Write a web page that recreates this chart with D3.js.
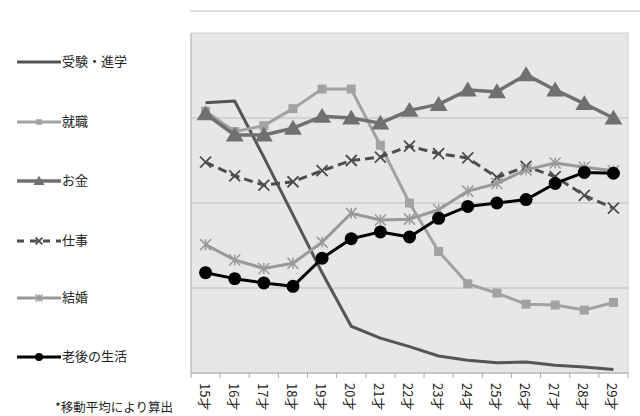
<!DOCTYPE html>
<html>
<head>
<meta charset="utf-8">
<script src="https://cdn.jsdelivr.net/npm/d3@7"></script>
<style>
  html, body { margin: 0; padding: 0; background: #fff; }
  svg { display: block; font-family: "Noto Sans CJK JP", "Noto Sans", sans-serif; }
</style>
</head>
<body>
<svg id="chart" width="640" height="416"></svg>
<script>
// Ages (x categories)
const ages = ["15才","16才","17才","18才","19才","20才","21才","22才","23才","24才","25才","26才","27才","28才","29才"];

// Series values (moving averages)
const juken   = [3.18, 3.20, 2.54, 1.86, 1.18, 0.55, 0.41, 0.31, 0.20, 0.15, 0.12, 0.13, 0.09, 0.07, 0.04];
const shushoku= [3.08, 2.84, 2.91, 3.11, 3.34, 3.34, 2.68, 2.00, 1.43, 1.05, 0.94, 0.81, 0.80, 0.74, 0.83];
const okane   = [3.05, 2.80, 2.80, 2.88, 3.02, 3.00, 2.94, 3.09, 3.16, 3.33, 3.31, 3.51, 3.33, 3.17, 3.00];
const shigoto = [2.48, 2.32, 2.21, 2.25, 2.38, 2.50, 2.54, 2.67, 2.58, 2.53, 2.30, 2.43, 2.31, 2.09, 1.94];
const kekkon  = [1.51, 1.33, 1.23, 1.29, 1.54, 1.88, 1.80, 1.81, 1.92, 2.14, 2.23, 2.39, 2.47, 2.42, 2.38];
const rougo   = [1.18, 1.11, 1.06, 1.02, 1.35, 1.58, 1.66, 1.60, 1.82, 1.96, 2.00, 2.04, 2.23, 2.36, 2.35];

const gridValues = [1, 2, 3];
const note = "*移動平均により算出";

const series = [
  { name: "受験・進学", values: juken,    color: "#555555", width: 3,   dash: null,  marker: "none" },
  { name: "就職",       values: shushoku, color: "#a2a2a2", width: 3,   dash: null,  marker: "square" },
  { name: "お金",       values: okane,    color: "#707070", width: 3.5, dash: null,  marker: "triangle" },
  { name: "仕事",       values: shigoto,  color: "#4d4d4d", width: 3,   dash: "9,5", marker: "x" },
  { name: "結婚",       values: kekkon,   color: "#999999", width: 3,   dash: null,  marker: "star" },
  { name: "老後の生活", values: rougo,    color: "#000000", width: 3,   dash: null,  marker: "circle" }
];

const svg = d3.select("#chart");
const plot = { left: 191, right: 628, top: 33, bottom: 373 };

const x = d3.scaleBand().domain(ages).range([plot.left, plot.right]).padding(0);
const cx = d => x(d) + x.bandwidth() / 2;
const y = d3.scaleLinear().domain([0, 4]).range([plot.bottom, plot.top]);

// top rule of the chart area
svg.append("line")
  .attr("x1", 190).attr("x2", 640).attr("y1", 11).attr("y2", 11)
  .attr("stroke", "#d2d2d2").attr("stroke-width", 1.5);

// plot background
svg.append("rect")
  .attr("x", plot.left).attr("y", plot.top)
  .attr("width", plot.right - plot.left).attr("height", plot.bottom - plot.top)
  .attr("fill", "#e7e7e7").attr("stroke", "#cfcfcf").attr("stroke-width", 1);

// horizontal gridlines
svg.append("g").selectAll("line").data(gridValues).join("line")
  .attr("x1", plot.left).attr("x2", plot.right)
  .attr("y1", d => y(d)).attr("y2", d => y(d))
  .attr("stroke", "#bdbdbd").attr("stroke-width", 1.2);

// left axis line
svg.append("line")
  .attr("x1", plot.left).attr("x2", plot.left).attr("y1", plot.top).attr("y2", plot.bottom)
  .attr("stroke", "#bbbbbb").attr("stroke-width", 1);

// bottom axis: line + tick marks between categories
const xAxis = svg.append("g").attr("transform", `translate(0,${plot.bottom})`);
xAxis.append("line")
  .attr("x1", plot.left).attr("x2", plot.right)
  .attr("stroke", "#aaaaaa").attr("stroke-width", 1.2);
const boundaries = ages.map(a => x(a)).concat([x(ages[ages.length - 1]) + x.bandwidth()]);
xAxis.selectAll("line.tick").data(boundaries).join("line")
  .attr("class", "tick")
  .attr("x1", d => d).attr("x2", d => d).attr("y1", 0).attr("y2", 5)
  .attr("stroke", "#aaaaaa").attr("stroke-width", 1);

// rotated age labels
xAxis.selectAll("text").data(ages).join("text")
  .attr("transform", d => `translate(${cx(d) - 2.5},${10}) rotate(90)`)
  .attr("text-anchor", "start")
  .attr("dominant-baseline", "middle")
  .attr("font-size", 13)
  .attr("fill", "#222")
  .text(d => d);

// marker drawing
function drawMarker(g, type, color, size) {
  const s = size;
  if (type === "square") {
    g.append("rect").attr("x", -s / 2).attr("y", -s / 2).attr("width", s).attr("height", s).attr("fill", color);
  } else if (type === "triangle") {
    const h = s * 0.9;
    g.append("path").attr("d", `M0,${-h * 0.62}L${s * 0.6},${h * 0.48}L${-s * 0.6},${h * 0.48}Z`).attr("fill", color);
  } else if (type === "circle") {
    g.append("circle").attr("r", s / 2).attr("fill", color);
  } else if (type === "x") {
    const r = s / 2;
    g.append("path").attr("d", `M${-r},${-r}L${r},${r}M${-r},${r}L${r},${-r}`)
      .attr("stroke", color).attr("stroke-width", 1.8).attr("fill", "none");
  } else if (type === "star") {
    const r = s / 2;
    g.append("path").attr("d", `M${-r},${-r}L${r},${r}M${-r},${r}L${r},${-r}M0,${-r}L0,${r}`)
      .attr("stroke", color).attr("stroke-width", 1.5).attr("fill", "none");
  }
}

const markerSize = { square: 9, triangle: 15, circle: 13, x: 11, star: 11, none: 0 };

const line = d3.line().x((v, i) => cx(ages[i])).y(v => y(v));

// draw series in legend order
series.forEach(s => {
  const g = svg.append("g");
  g.append("path")
    .attr("d", line(s.values))
    .attr("fill", "none")
    .attr("stroke", s.color)
    .attr("stroke-width", s.width)
    .attr("stroke-dasharray", s.dash)
    .attr("stroke-linejoin", "round");
  if (s.marker !== "none") {
    s.values.forEach((v, i) => {
      const m = g.append("g").attr("transform", `translate(${cx(ages[i])},${y(v)})`);
      drawMarker(m, s.marker, s.color, markerSize[s.marker]);
    });
  }
});

// legend
const legendY = [62, 122, 181, 241, 298, 357];
const legend = svg.append("g");
series.forEach((s, i) => {
  const g = legend.append("g").attr("transform", `translate(0,${legendY[i]})`);
  g.append("line").attr("x1", 17).attr("x2", 61).attr("y1", 0).attr("y2", 0)
    .attr("stroke", s.color).attr("stroke-width", s.width)
    .attr("stroke-dasharray", s.dash ? "7,6" : null);
  if (s.marker !== "none") {
    const m = g.append("g").attr("transform", "translate(39,0)");
    drawMarker(m, s.marker, s.color, markerSize[s.marker] * 0.62);
  }
  g.append("text").attr("x", 62).attr("y", 0)
    .attr("dominant-baseline", "middle")
    .attr("font-size", 13).attr("fill", "#222")
    .text(s.name);
});

// footnote
svg.append("text")
  .attr("x", 55).attr("y", 409)
  .attr("dominant-baseline", "middle")
  .attr("font-size", 12.5).attr("fill", "#222")
  .text(note);
</script>
</body>
</html>
